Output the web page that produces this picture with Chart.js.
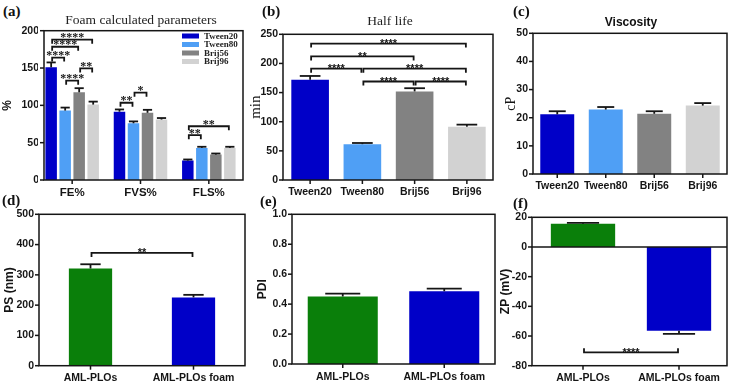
<!DOCTYPE html>
<html><head><meta charset="utf-8">
<script src="https://cdn.jsdelivr.net/npm/chart.js@4/dist/chart.umd.min.js"></script>
<style>
html,body{margin:0;padding:0;background:#fff;}
#wrap{position:relative;width:731px;height:384px;overflow:hidden;background:#fff;}
canvas{position:absolute;}
.lbl{position:absolute;font-family:'Liberation Serif',serif;font-weight:bold;font-size:15px;color:#111;line-height:1;z-index:5;}
.ttl{position:absolute;font-family:'Liberation Serif',serif;font-size:13.5px;color:#222;line-height:1;white-space:nowrap;transform:translateX(-50%);z-index:5;}
.ttls{position:absolute;font-family:'Liberation Sans',sans-serif;font-weight:bold;font-size:12px;color:#111;line-height:1;white-space:nowrap;transform:translateX(-50%);z-index:5;}
</style></head><body>
<div id="wrap">
  <div class="lbl" style="left:3px;top:4px">(a)</div>
  <div class="ttl" style="left:141px;top:13px">Foam calculated parameters</div>
  <div class="lbl" style="left:262px;top:4px">(b)</div>
  <div class="ttl" style="left:390px;top:13.5px">Half life</div>
  <div class="lbl" style="left:513px;top:4px">(c)</div>
  <div class="ttls" style="left:631px;top:16px">Viscosity</div>
  <div class="lbl" style="left:2px;top:193px">(d)</div>
  <div class="lbl" style="left:260px;top:194px">(e)</div>
  <div class="lbl" style="left:513px;top:196px">(f)</div>
</div>
<script>
// ---------- DATA ----------
const catA = ['FE%', 'FVS%', 'FLS%'];
const seriesA = ['Tween20', 'Tween80', 'Brij56', 'Brij96'];
const tween20A = [151, 91.5, 26];
const tween80A = [93, 76, 43];
const brij56A = [117.5, 90, 34];
const brij96A = [101, 81, 43];
const tween20ErrA = [6.5, 3, 1.5];
const tween80ErrA = [4, 2.5, 1.5];
const brij56ErrA = [5.5, 4, 1.5];
const brij96ErrA = [4, 2, 1.5];
const ticksA = [0, 50, 100, 150, 200];
// [category, fromSeries, toSeries, yValue, stars]
const sigA = [
  [0, 0, 3, 188, '****'],
  [0, 0, 2, 178.5, '****'],
  [0, 0, 1, 164, '****'],
  [0, 2, 3, 149.5, '**'],
  [0, 1, 2, 133, '****'],
  [1, 0, 1, 103.5, '**'],
  [1, 1, 2, 117, '*'],
  [2, 0, 1, 60, '**'],
  [2, 0, 3, 72, '**']
];

const catB = ['Tween20', 'Tween80', 'Brij56', 'Brij96'];
const halfLife = [172, 61.5, 152, 91.5];
const halfLifeErr = [6.5, 2, 5.5, 3.5];
const ticksB = [0, 50, 100, 150, 200, 250];
// [fromCat, toCat, yValue, stars]
const sigB = [
  [0, 3, 234, '****'],
  [0, 2, 212, '**'],
  [0, 1, 191, '****'],
  [1, 3, 191, '****'],
  [1, 2, 169, '****'],
  [2, 3, 169, '****']
];

const catC = ['Tween20', 'Tween80', 'Brij56', 'Brij96'];
const viscosity = [21.2, 22.9, 21.4, 24.3];
const viscosityErr = [1.1, 0.9, 0.9, 0.9];
const ticksC = [0, 10, 20, 30, 40, 50];

const catPLO = ['AML-PLOs', 'AML-PLOs foam'];
const psVals = [321, 225.5];
const psErr = [14, 8.5];
const ticksD = [0, 100, 200, 300, 400, 500];
const sigD = [[0, 1, 372.5, '**']];

const pdiVals = [0.451, 0.486];
const pdiErr = [0.019, 0.017];
const ticksE = [0, 0.2, 0.4, 0.6, 0.8, 1.0];

const zpVals = [15.6, -56.4];
const zpErr = [0.7, 2.2];
const ticksF = [-80, -60, -40, -20, 0, 20];
const sigF = [[0, 1, -71, '****']];

// ---------- STYLE ----------
const C_T20 = '#0000c8', C_T80 = '#4f9ff5', C_B56 = '#828282', C_B96 = '#d2d2d2';
const C_GREEN = '#0a7f0a', C_BLUE = '#0000c8';
const INK = '#151515';
const tickFont = {family: 'Liberation Sans', weight: 'bold', size: 10.5};
const xFontA = {family: 'Liberation Sans', weight: 'bold', size: 11.5};
const xFontTop = {family: 'Liberation Sans', weight: 'bold', size: 10.5};
const xFontBot = {family: 'Liberation Sans', weight: 'bold', size: 10.5};

const panelPlugin = {
  id: 'panel',
  afterDatasetsDraw(chart, args, o) {
    const ctx = chart.ctx;
    const {left, right, top, bottom} = chart.chartArea;
    const axL = o.axisLeft != null ? o.axisLeft - o.ox : left;
    const xs = chart.scales.x, ys = chart.scales.y;
    ctx.save();
    ctx.strokeStyle = INK; ctx.fillStyle = INK;
    ctx.lineCap = 'butt';
    const line = (x1, y1, x2, y2) => { ctx.beginPath(); ctx.moveTo(x1, y1); ctx.lineTo(x2, y2); ctx.stroke(); };
    // error bars
    ctx.lineWidth = 1.8;
    chart.data.datasets.forEach((ds, di) => {
      const meta = chart.getDatasetMeta(di);
      meta.data.forEach((bar, i) => {
        const v = ds.data[i], e = ds.errors[i];
        const end = v >= 0 ? v + e : v - e;
        const yv = ys.getPixelForValue(v), ye = ys.getPixelForValue(end);
        const w = bar.width * o.capRatio;
        line(bar.x, yv, bar.x, ye);
        line(bar.x - w / 2, ye, bar.x + w / 2, ye);
      });
    });
    // zero line
    ctx.lineWidth = 1.5;
    if (o.zeroLine) { const y0 = ys.getPixelForValue(0); line(axL, y0, right, y0); }
    // frame
    ctx.strokeRect(axL, top, right - axL, bottom - top);
    // y ticks
    ys.ticks.forEach(t => { const y = ys.getPixelForValue(t.value); line(axL - 4, y, axL, y); });
    // x ticks
    xs.ticks.forEach((t, i) => { const x = xs.getPixelForTick(i); line(x, bottom, x, bottom + 4); });
    // significance brackets
    ctx.lineWidth = o.bracketWidth || 1.8;
    (o.brackets || []).forEach(b => {
      const x1 = chart.getDatasetMeta(b.d1).data[b.i1].x + 1;
      const x2 = chart.getDatasetMeta(b.d2).data[b.i2].x - 1;
      const y = ys.getPixelForValue(b.y);
      const t = o.bracketUp ? -4 : 4;
      ctx.beginPath(); ctx.moveTo(x1, y + t); ctx.lineTo(x1, y); ctx.lineTo(x2, y); ctx.lineTo(x2, y + t); ctx.stroke();
      ctx.font = o.starFont; ctx.textAlign = 'center'; ctx.textBaseline = 'alphabetic';
      ctx.fillText(b.label, (x1 + x2) / 2, y + o.starDy);
    });
    // legend
    if (o.legend) {
      const L = o.legend;
      ctx.font = L.font; ctx.textAlign = 'left'; ctx.textBaseline = 'middle';
      chart.data.datasets.forEach((ds, di) => {
        const cy = L.y - o.oy + di * L.pitch;
        ctx.fillStyle = ds.backgroundColor;
        ctx.fillRect(L.x - o.ox, cy - 2.5, 17, 5);
        ctx.fillStyle = '#222';
        ctx.fillText(ds.label, L.x - o.ox + 22, cy + 0.5);
      });
    }
    ctx.restore();
  }
};

function makeChart(box, area, spec) {
  const wrap = document.getElementById('wrap');
  const cv = document.createElement('canvas');
  cv.width = box.w; cv.height = box.h;
  cv.style.left = box.x + 'px'; cv.style.top = box.y + 'px';
  cv.style.width = box.w + 'px'; cv.style.height = box.h + 'px';
  wrap.appendChild(cv);
  const yW = area.l - box.x, xH = box.y + box.h - area.b;
  const axisLeft = spec.axisLeft != null ? spec.axisLeft : area.l;
  const ticksArr = spec.ticks;
  new Chart(cv, {
    type: 'bar',
    data: {labels: spec.labels, datasets: spec.datasets},
    options: {
      responsive: false, animation: false, devicePixelRatio: 1,
      layout: {padding: {left: 0, top: area.t - box.y, right: box.x + box.w - area.r, bottom: 0}},
      plugins: {
        legend: {display: false}, tooltip: {enabled: false}, title: {display: false},
        panel: Object.assign({ox: box.x, oy: box.y, axisLeft: spec.axisLeft}, spec.panel)
      },
      scales: {
        x: {
          grid: {display: false, drawTicks: false}, border: {display: false},
          ticks: {font: spec.xFont, color: INK, padding: spec.xPad, maxRotation: 0, minRotation: 0, autoSkip: false},
          afterFit: s => { s.height = xH; }
        },
        y: {
          min: ticksArr[0], max: ticksArr[ticksArr.length - 1],
          grid: {display: false, drawTicks: false}, border: {display: false},
          afterBuildTicks: s => { s.ticks = ticksArr.map(v => ({value: v})); },
          ticks: {font: tickFont, color: INK, padding: area.l - axisLeft + 5,
                  callback: spec.tickFmt || (v => String(v))},
          title: {display: true, text: spec.yTitle, font: spec.yTitleFont, color: INK,
                  padding: {top: spec.yTitleX - box.x - (spec.yTitleFont.size * 1.2) / 2, bottom: 0}},
          afterFit: s => { s.width = yW; }
        }
      }
    },
    plugins: [panelPlugin]
  });
}

function bar(label, data, errors, color, bp, cp) {
  return {label, data, errors, backgroundColor: color, borderWidth: 0, barPercentage: bp, categoryPercentage: cp};
}
const sansTitle = {family: 'Liberation Sans', weight: 'bold', size: 12};
const serifTitle = {family: 'Liberation Serif', weight: 'normal', size: 15};

// (a)
makeChart({x: 0, y: 22, w: 248, h: 180}, {l: 38, t: 30.7, r: 243, b: 180}, {
  labels: catA, axisLeft: 44, ticks: ticksA, xFont: xFontA, xPad: 6,
  yTitle: '%', yTitleFont: sansTitle, yTitleX: 8,
  datasets: [
    bar(seriesA[0], tween20A, tween20ErrA, C_T20, 0.82, 0.82),
    bar(seriesA[1], tween80A, tween80ErrA, C_T80, 0.82, 0.82),
    bar(seriesA[2], brij56A, brij56ErrA, C_B56, 0.82, 0.82),
    bar(seriesA[3], brij96A, brij96ErrA, C_B96, 0.82, 0.82)
  ],
  panel: {capRatio: 0.8, starFont: 'bold 12px "Liberation Serif"', starDy: 1.5,
          brackets: sigA.map(s => ({i1: s[0], d1: s[1], i2: s[0], d2: s[2], y: s[3], label: s[4]})),
          legend: {x: 182, y: 36, pitch: 8.5, font: 'bold 9px "Liberation Serif"'}}
});
// (b)
makeChart({x: 245, y: 22, w: 250, h: 180}, {l: 284, t: 30.7, r: 493, b: 180}, {
  labels: catB, axisLeft: 283, ticks: ticksB, xFont: xFontTop, xPad: 6,
  yTitle: 'min', yTitleFont: serifTitle, yTitleX: 256,
  datasets: [bar('Half life', halfLife, halfLifeErr, [C_T20, C_T80, C_B56, C_B96], 0.72, 1)],
  panel: {capRatio: 0.55, starFont: 'bold 11px "Liberation Sans"', starDy: 3.5,
          brackets: sigB.map(s => ({i1: s[0], d1: 0, i2: s[1], d2: 0, y: s[2], label: s[3]}))}
});
// (c)
makeChart({x: 495, y: 22, w: 236, h: 175}, {l: 533, t: 30.7, r: 727, b: 174}, {
  labels: catC, ticks: ticksC, xFont: xFontTop, xPad: 6,
  yTitle: 'cP', yTitleFont: {family: 'Liberation Serif', weight: 'normal', size: 14}, yTitleX: 511,
  datasets: [bar('Viscosity', viscosity, viscosityErr, [C_T20, C_T80, C_B56, C_B96], 0.7, 1)],
  panel: {capRatio: 0.5}
});
// (d)
makeChart({x: 0, y: 203, w: 248, h: 181}, {l: 39, t: 212.7, r: 245, b: 365.7}, {
  labels: catPLO, ticks: ticksD, xFont: xFontBot, xPad: 6,
  yTitle: 'PS (nm)', yTitleFont: sansTitle, yTitleX: 10,
  datasets: [bar('PS', psVals, psErr, [C_GREEN, C_BLUE], 0.42, 1)],
  panel: {capRatio: 0.47, starFont: 'bold 11px "Liberation Sans"', starDy: 3.5,
          brackets: sigD.map(s => ({i1: s[0], d1: 0, i2: s[1], d2: 0, y: s[2], label: s[3]}))}
});
// (e)
makeChart({x: 248, y: 203, w: 250, h: 181}, {l: 292, t: 211.7, r: 495, b: 364}, {
  labels: catPLO, ticks: ticksE, xFont: xFontBot, xPad: 7,
  tickFmt: v => Number(v).toFixed(1),
  yTitle: 'PDI', yTitleFont: sansTitle, yTitleX: 263,
  datasets: [bar('PDI', pdiVals, pdiErr, [C_GREEN, C_BLUE], 0.69, 1)],
  panel: {capRatio: 0.5}
});
// (f)
makeChart({x: 498, y: 203, w: 233, h: 181}, {l: 535, t: 214.3, r: 727, b: 365.7}, {
  labels: catPLO, axisLeft: 532, ticks: ticksF, xFont: xFontBot, xPad: 6,
  yTitle: 'ZP (mV)', yTitleFont: sansTitle, yTitleX: 506,
  datasets: [bar('ZP', zpVals, zpErr, [C_GREEN, C_BLUE], 0.67, 1)],
  panel: {capRatio: 0.5, zeroLine: true, bracketUp: true, starFont: 'bold 11px "Liberation Sans"', starDy: 3.5,
          brackets: sigF.map(s => ({i1: s[0], d1: 0, i2: s[1], d2: 0, y: s[2], label: s[3]}))}
});
</script>
</body></html>
